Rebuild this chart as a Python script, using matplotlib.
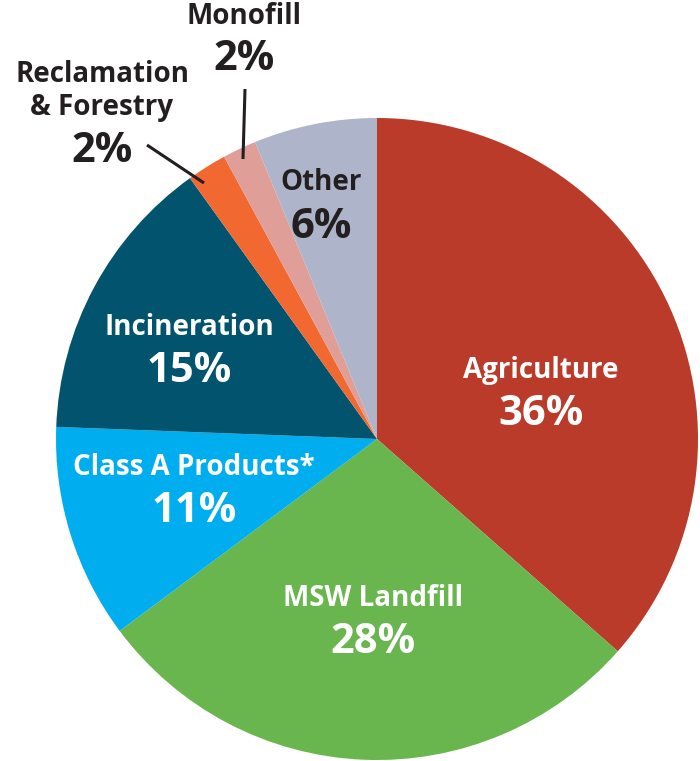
import matplotlib
matplotlib.use("Agg")
import matplotlib.pyplot as plt

# ---- data ----
categories = ["Agriculture", "MSW Landfill", "Class A Products*", "Incineration",
              "Reclamation\n& Forestry", "Monofill", "Other"]
shares = [36.5, 28.3, 10.8, 14.5, 2.0, 1.7, 6.2]
pct_labels = ["36%", "28%", "11%", "15%", "2%", "2%", "6%"]
colors = ["#BA3B2A", "#68B64D", "#00AEEF", "#02536D", "#F26831", "#DF9F98", "#AEB4C9"]

W, H = 700, 761
fig = plt.figure(figsize=(W / 100, H / 100), dpi=100)
ax = fig.add_axes([0, 0, 1, 1])

cx, cy_px, r = 377, 439, 321
ax.pie(shares, colors=colors, startangle=90, counterclock=False,
       center=(cx, H - cy_px), radius=r,
       wedgeprops=dict(linewidth=0, antialiased=True))
ax.set_xlim(0, W)
ax.set_ylim(0, H)
ax.set_aspect("auto")
ax.axis("off")

FONT = ["Open Sans", "DejaVu Sans"]
NAME_SIZE, PCT_SIZE = 20, 30
# label layout: (center x, name baseline y px, pct baseline y px, text color)
layout = {
    "Agriculture": (541, 378, 425, "white"),
    "MSW Landfill": (373, 606, 653, "white"),
    "Class A Products*": (194, 475, 522, "white"),
    "Incineration": (189, 335, 382, "white"),
    "Reclamation\n& Forestry": (102, 82, 162, "#231F20"),
    "Monofill": (244, 24, 70, "#231F20"),
    "Other": (321, 190, 238, "#231F20"),
}
for name, pct in zip(categories, pct_labels):
    x, ny, py, col = layout[name]
    lines = name.split("\n")
    for i, line in enumerate(lines):
        ax.text(x, H - (ny + i * 33), line, ha="center", va="baseline", color=col,
                fontsize=NAME_SIZE, fontweight="bold", family=FONT)
    ax.text(x, H - py, pct, ha="center", va="baseline", color=col,
            fontsize=PCT_SIZE, fontweight="bold", family=FONT)

# leader lines
ax.plot([245, 243], [H - 89, H - 159], color="#231F20", lw=2.2, solid_capstyle="butt")
ax.plot([147, 204], [H - 145, H - 183], color="#231F20", lw=2.2, solid_capstyle="butt")

fig.savefig("out.png", dpi=100, facecolor="white")
